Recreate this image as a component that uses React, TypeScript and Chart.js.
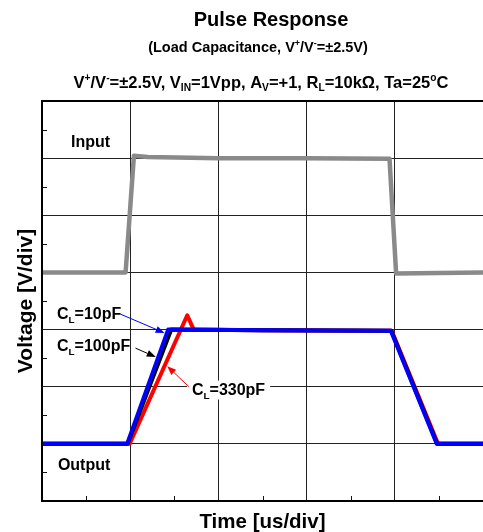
import React, { useEffect, useRef } from 'react';
import { Chart, registerables } from 'chart.js';

Chart.register(...registerables);

const FONT = "'Liberation Sans', Arial, Helvetica, sans-serif";

// ---- Data (x in us/div divisions, y in V/div divisions) ----
const inputX = [0, 0.948, 1.042, 1.2, 2.0, 3.0, 3.94, 4.015, 4.5, 5.0];
const inputY = [4.0, 4.0, 6.04, 6.02, 6.0, 6.0, 5.99, 3.98, 3.99, 4.0];

const cl10X = [0, 0.965, 1.43, 2.5, 3.955, 4.475, 5.0];
const cl10Y = [1.0, 1.0, 3.0, 2.99, 2.98, 1.0, 1.0];

const cl100X = [0, 0.97, 1.465, 2.5, 3.96, 4.48, 5.0];
const cl100Y = [1.0, 1.0, 3.0, 2.99, 2.98, 1.0, 1.0];

const cl330X = [0, 0.993, 1.647, 1.72, 2.5, 3.965, 4.49, 5.0];
const cl330Y = [1.0, 1.0, 3.25, 3.0, 2.99, 2.98, 1.0, 1.0];

const xDivs = [0, 5];
const yDivs = [0, 7];
const xMinorTicks = [0.5, 1.5, 2.5, 3.5, 4.5];
const yMinorTicks = [0.5, 1.5, 2.5, 3.5, 4.5, 5.5, 6.5];

// ---- Text ----
type Seg = { t: string; s?: 'sub' | 'sup' };
const TITLE: Seg[] = [{ t: 'Pulse Response' }];
const SUBTITLE: Seg[] = [
  { t: '(Load Capacitance, V' }, { t: '+', s: 'sup' }, { t: '/V' }, { t: '-', s: 'sup' }, { t: '=±2.5V)' },
];
const CONDITIONS: Seg[] = [
  { t: 'V' }, { t: '+', s: 'sup' }, { t: '/V' }, { t: '-', s: 'sup' }, { t: '=±2.5V, V' },
  { t: 'IN', s: 'sub' }, { t: '=1Vpp, A' }, { t: 'V', s: 'sub' }, { t: '=+1, R' },
  { t: 'L', s: 'sub' }, { t: '=10kΩ, Ta=25' }, { t: 'o', s: 'sup' }, { t: 'C' },
];
const X_TITLE: Seg[] = [{ t: 'Time [us/div]' }];
const Y_TITLE: Seg[] = [{ t: 'Voltage [V/div]' }];

const labelTexts: Seg[][] = [
  [{ t: 'Input' }],
  [{ t: 'Output' }],
  [{ t: 'C' }, { t: 'L', s: 'sub' }, { t: '=10pF' }],
  [{ t: 'C' }, { t: 'L', s: 'sub' }, { t: '=100pF' }],
  [{ t: 'C' }, { t: 'L', s: 'sub' }, { t: '=330pF' }],
];
const labelX = [0.33, 0.18, 0.17, 0.17, 1.70];
const labelY = [6.3, 0.64, 3.29, 2.73, 1.95];
const labelBox = [false, false, false, false, true];

// arrows: [fromX, fromY, toX, toY]
const arrowFrom = [[0.89, 3.27], [1.06, 2.675], [1.665, 2.0]];
const arrowTo = [[1.39, 2.94], [1.29, 2.52], [1.42, 2.36]];
const arrowColors = ['#0000ff', '#000000', '#ff0000'];

function toPts(xs: number[], ys: number[]) {
  return xs.map((x, i) => ({ x, y: ys[i] }));
}

function segFont(size: number, s?: string) {
  return `bold ${s ? size * 0.62 : size}px ${FONT}`;
}
function richWidth(ctx: CanvasRenderingContext2D, segs: Seg[], size: number) {
  let w = 0;
  for (const g of segs) {
    ctx.font = segFont(size, g.s);
    w += ctx.measureText(g.t).width;
  }
  return w;
}
function drawRich(
  ctx: CanvasRenderingContext2D, segs: Seg[], x: number, y: number, size: number,
  align: 'left' | 'center', color = '#000',
) {
  const w = richWidth(ctx, segs, size);
  let cx = align === 'center' ? x - w / 2 : x;
  ctx.fillStyle = color;
  ctx.textBaseline = 'alphabetic';
  ctx.textAlign = 'left';
  for (const g of segs) {
    ctx.font = segFont(size, g.s);
    const dy = g.s === 'sub' ? size * 0.24 : g.s === 'sup' ? -size * 0.4 : 0;
    ctx.fillText(g.t, cx, y + dy);
    cx += ctx.measureText(g.t).width;
  }
  return w;
}

function drawArrow(ctx: CanvasRenderingContext2D, x0: number, y0: number, x1: number, y1: number, color: string) {
  const ang = Math.atan2(y1 - y0, x1 - x0);
  const L = 9, W = 3.5;
  const c = Math.cos(ang), s = Math.sin(ang);
  ctx.strokeStyle = color;
  ctx.lineWidth = 1;
  ctx.beginPath();
  ctx.moveTo(x0, y0);
  ctx.lineTo(x1 - L * c, y1 - L * s);
  ctx.stroke();
  ctx.fillStyle = color;
  ctx.beginPath();
  ctx.moveTo(x1, y1);
  ctx.lineTo(x1 - L * c + W * s, y1 - L * s - W * c);
  ctx.lineTo(x1 - L * c - W * s, y1 - L * s + W * c);
  ctx.closePath();
  ctx.fill();
}

const decor = {
  id: 'decor',
  afterDatasetsDraw(chart: any) {
    const ctx: CanvasRenderingContext2D = chart.ctx;
    const xs = chart.scales.x, ys = chart.scales.y;
    ctx.save();
    const LS = 16;
    labelTexts.forEach((segs, i) => {
      const px = xs.getPixelForValue(labelX[i]);
      const py = ys.getPixelForValue(labelY[i]);
      if (labelBox[i]) {
        const w = richWidth(ctx, segs, LS);
        ctx.fillStyle = '#ffffff';
        ctx.fillRect(px - 5, py - 9, w + 10, 19);
      }
      drawRich(ctx, segs, px, py + LS * 0.36, LS, 'left', '#000');
    });
    arrowFrom.forEach((f, i) => {
      drawArrow(
        ctx,
        xs.getPixelForValue(f[0]), ys.getPixelForValue(f[1]),
        xs.getPixelForValue(arrowTo[i][0]), ys.getPixelForValue(arrowTo[i][1]),
        arrowColors[i],
      );
    });
    ctx.restore();
  },
  afterDraw(chart: any) {
    const ctx: CanvasRenderingContext2D = chart.ctx;
    const a = chart.chartArea;
    const xs = chart.scales.x, ys = chart.scales.y;
    ctx.save();
    // frame (top, left, bottom)
    ctx.strokeStyle = '#000';
    ctx.lineWidth = 2;
    ctx.beginPath();
    ctx.moveTo(a.right + 2, a.top);
    ctx.lineTo(a.left, a.top);
    ctx.lineTo(a.left, a.bottom);
    ctx.lineTo(a.right + 2, a.bottom);
    ctx.stroke();
    // minor ticks
    ctx.lineWidth = 1;
    ctx.strokeStyle = '#111';
    ctx.beginPath();
    for (const v of yMinorTicks) {
      const py = Math.round(ys.getPixelForValue(v)) + 0.5;
      ctx.moveTo(a.left, py);
      ctx.lineTo(a.left + 5, py);
    }
    for (const v of xMinorTicks) {
      const px = Math.round(xs.getPixelForValue(v)) + 0.5;
      ctx.moveTo(px, a.bottom);
      ctx.lineTo(px, a.bottom - 5);
    }
    ctx.stroke();
    // titles
    drawRich(ctx, TITLE, 271, 26, 20, 'center');
    drawRich(ctx, SUBTITLE, 258, 51.5, 14.5, 'center');
    drawRich(ctx, CONDITIONS, 261, 87.5, 16.5, 'center');
    drawRich(ctx, X_TITLE, (a.left + a.right) / 2, 528, 20.5, 'center');
    ctx.translate(32, (a.top + a.bottom) / 2);
    ctx.rotate(-Math.PI / 2);
    drawRich(ctx, Y_TITLE, 0, 0, 21, 'center');
    ctx.restore();
  },
};

export default function App() {
  const ref = useRef<HTMLCanvasElement | null>(null);
  useEffect(() => {
    if (!ref.current) return;
    const gridColor = (max: number) => (c: any) =>
      c.tick && (c.tick.value === max) ? 'rgba(0,0,0,0)' : '#222';
    const chart = new Chart(ref.current, {
      type: 'scatter',
      data: {
        datasets: [
          { label: 'CL=10pF', data: toPts(cl10X, cl10Y), borderColor: '#0000ff', borderWidth: 4 },
          { label: 'CL=100pF', data: toPts(cl100X, cl100Y), borderColor: '#000000', borderWidth: 4 },
          { label: 'CL=330pF', data: toPts(cl330X, cl330Y), borderColor: '#ff0000', borderWidth: 4 },
          { label: 'Input', data: toPts(inputX, inputY), borderColor: '#8a8a8a', borderWidth: 4.5 },
        ].map((d) => ({
          ...d,
          showLine: true,
          pointRadius: 0,
          tension: 0,
          borderJoinStyle: 'round' as const,
          borderCapStyle: 'round' as const,
        })),
      },
      options: {
        animation: false,
        responsive: false,
        layout: { padding: { left: 42, right: 0, top: 101, bottom: 31 } },
        plugins: {
          legend: { display: false },
          tooltip: { enabled: false },
          title: { display: false },
        },
        scales: {
          x: {
            type: 'linear', min: xDivs[0], max: xDivs[1],
            ticks: { display: false, stepSize: 1 },
            grid: { color: gridColor(xDivs[1]), lineWidth: 1, drawTicks: false },
            border: { display: false },
          },
          y: {
            type: 'linear', min: yDivs[0], max: yDivs[1],
            ticks: { display: false, stepSize: 1 },
            grid: { color: gridColor(yDivs[1]), lineWidth: 1, drawTicks: false },
            border: { display: false },
          },
        },
      },
      plugins: [decor],
    });
    return () => chart.destroy();
  }, []);
  return (
    <div style={{ position: 'absolute', left: 0, top: 0, width: 483, height: 532, background: '#fff' }}>
      <canvas ref={ref} width={483} height={532} style={{ display: 'block', width: 483, height: 532 }} />
    </div>
  );
}
